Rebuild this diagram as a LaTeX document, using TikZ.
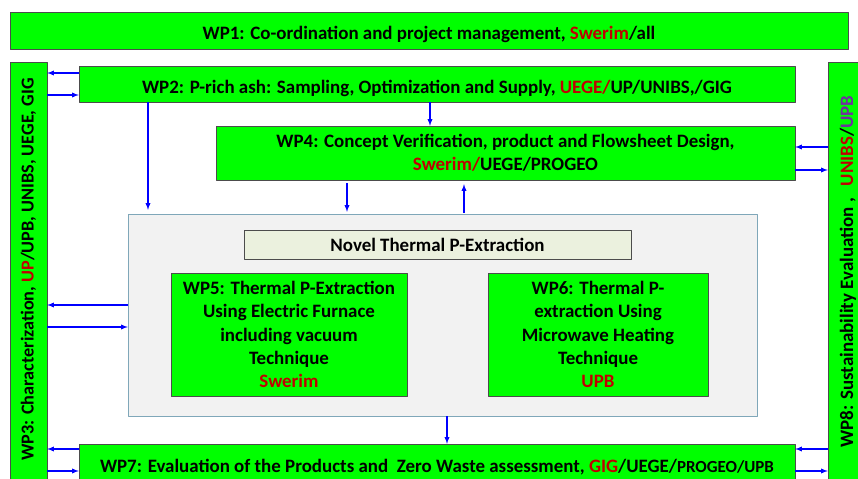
\documentclass[tikz,border=0pt]{standalone}
\usepackage{fontspec}
\setmainfont{Carlito}
\definecolor{wpgreen}{HTML}{00FF00}
\definecolor{wpred}{HTML}{C00000}
\definecolor{wppurple}{HTML}{7030A0}
\definecolor{panelgray}{HTML}{F2F2F2}
\definecolor{panelline}{HTML}{7FA7B9}
\definecolor{titlefill}{HTML}{EBF1DE}
\tikzset{
  wpbox/.style={draw=black!70,fill=wpgreen,inner sep=0pt,align=center,
    font=\fontsize{19}{23.5}\selectfont\bfseries},
  lowtext/.style={text height=23bp,text depth=4bp},
  flow/.style={blue,line width=1.3bp,->},
}
\newcommand{\org}[1]{\textcolor{wpred}{#1}}
\begin{document}
\begin{tikzpicture}[>=latex,line join=bevel,]
%%
\useasboundingbox (0bp,0bp) rectangle (858bp,479bp);
\node (node_wp1) at (429.0bp,448.5bp) [wpbox,lowtext,minimum width=838bp,minimum height=37bp] {WP1: Co-ordination and project management, \org{Swerim}/all};
  \node (node_wp3) at (28.5bp,200.5bp) [wpbox,rotate=90,minimum width=433bp,minimum height=37bp,font=\fontsize{18.3}{22}\selectfont\bfseries] {\hspace{18bp}WP3: Characterization, \org{UP}/UPB, UNIBS, UEGE, GIG};
  \node (node_wp8) at (848.0bp,200.5bp) [wpbox,rotate=90,minimum width=433bp,minimum height=40bp] {\hspace{14bp}WP8: Sustainability Evaluation ,\hspace{12bp}\org{UNIBS}/\textcolor{wppurple}{UPB}};
  \node (node_wp2) at (437.0bp,395.0bp) [wpbox,lowtext,minimum width=716bp,minimum height=36bp] {WP2: P-rich ash: Sampling, Optimization and Supply, \org{UEGE/}UP/UNIBS,/GIG};
  \node (node_wp4) at (505.5bp,326.0bp) [wpbox,minimum width=579bp,minimum height=54bp] {WP4: Concept Verification, product and Flowsheet Design,\\\org{Swerim/}UEGE/PROGEO};
  \node (node_panel) at (442.5bp,164.0bp) [draw=panelline,fill=panelgray,minimum width=629bp,minimum height=202bp] {};
  \node (node_title) at (437.5bp,234.5bp) [wpbox,fill=titlefill,minimum width=387bp,minimum height=29bp] {Novel Thermal P-Extraction};
  \node (node_wp5) at (289.0bp,144.5bp) [wpbox,minimum width=236bp,minimum height=123bp] {WP5: Thermal P-Extraction\\Using Electric Furnace\\including vacuum\\Technique\\\org{Swerim}};
  \node (node_wp6) at (598.0bp,144.5bp) [wpbox,minimum width=220bp,minimum height=123bp] {WP6: Thermal P-\\extraction Using\\Microwave Heating\\Technique\\\org{UPB}};
  \node (node_wp7) at (437.0bp,12.0bp) [wpbox,minimum width=716bp,minimum height=46bp] {WP7: Evaluation of the Products and\ \ Zero Waste assessment, \org{GIG}/UEGE/{\fontsize{17}{20}\selectfont PROGEO/UPB}};
%
  \draw [flow] ([yshift=11bp]node_wp2.west) -- ([yshift=11bp]node_wp2.west -| node_wp3.south);
  \draw [flow] ([yshift=-11bp]node_wp2.west -| node_wp3.south) -- ([yshift=-11bp]node_wp2.west);
  \draw [flow] ([yshift=10bp]node_panel.west) -- ([yshift=10bp]node_panel.west -| node_wp3.south);
  \draw [flow] ([yshift=-12bp]node_panel.west -| node_wp3.south) -- ([yshift=-12bp]node_panel.west);
  \draw [flow] ([yshift=18bp]node_wp7.west) -- ([yshift=18bp]node_wp7.west -| node_wp3.south);
  \draw [flow] ([yshift=-4bp]node_wp7.west -| node_wp3.south) -- ([yshift=-4bp]node_wp7.west);
  \draw [flow] ([yshift=6bp]node_wp4.east -| node_wp8.north) -- ([yshift=6bp]node_wp4.east);
  \draw [flow] ([yshift=-17bp]node_wp4.east) -- ([yshift=-17bp]node_wp4.east -| node_wp8.north);
  \draw [flow] ([yshift=18bp]node_wp7.east -| node_wp8.north) -- ([yshift=18bp]node_wp7.east);
  \draw [flow] ([yshift=-4bp]node_wp7.east) -- ([yshift=-4bp]node_wp7.east -| node_wp8.north);
%
  \draw [flow] ([xshift=-7bp]node_wp2.south) -- ([xshift=-7bp]node_wp2.south |- node_wp4.north);
  \draw [flow,shorten >=4bp] ([xshift=-289bp]node_wp2.south) -- ([xshift=-289bp]node_wp2.south |- node_panel.north);
  \draw [flow,shorten <=3bp,shorten >=2bp] ([xshift=-158.5bp]node_wp4.south) -- ([xshift=-158.5bp]node_wp4.south |- node_panel.north);
  \draw [flow,shorten <=1bp,shorten >=4bp] ([xshift=-41.5bp]node_wp4.south |- node_panel.north) -- ([xshift=-41.5bp]node_wp4.south);
  \draw [flow] ([xshift=4.5bp]node_panel.south) -- ([xshift=4.5bp]node_panel.south |- node_wp7.north);
%
\end{tikzpicture}
\end{document}
